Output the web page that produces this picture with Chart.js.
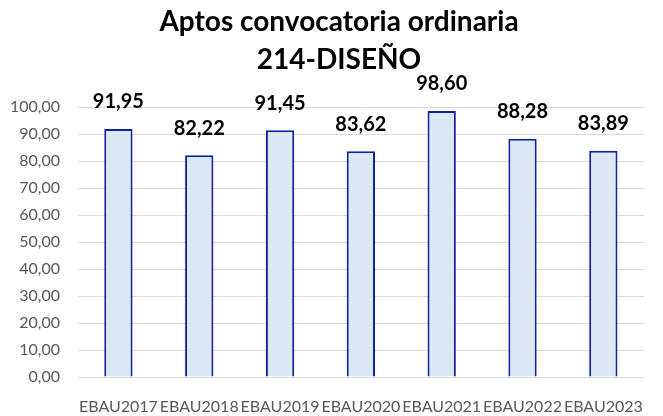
<!DOCTYPE html>
<html>
<head>
<meta charset="utf-8">
<script src="https://cdn.jsdelivr.net/npm/chart.js@4"></script>
<style>
  html, body { margin: 0; padding: 0; background: #fff; }
  #wrap { width: 663px; height: 416px; overflow: hidden; }
</style>
</head>
<body>
<div id="wrap"><canvas id="grafico"></canvas></div>
<script>
const cursos = ['EBAU2017', 'EBAU2018', 'EBAU2019', 'EBAU2020', 'EBAU2021', 'EBAU2022', 'EBAU2023'];
const aptos = [91.95, 82.22, 91.45, 83.62, 98.60, 88.28, 83.89];
const titulo = ['Aptos convocatoria ordinaria', '214-DISEÑO'];

const fmt = v => v.toFixed(2).replace('.', ',');

// etiquetas encima de cada barra
const etiquetas = {
  id: 'etiquetas',
  afterDatasetsDraw(chart) {
    const ctx = chart.ctx;
    const meta = chart.getDatasetMeta(0);
    ctx.save();
    ctx.font = 'bold 20px Lato';
    ctx.fillStyle = '#000';
    ctx.textAlign = 'center';
    ctx.textBaseline = 'middle';
    meta.data.forEach((bar, i) => {
      ctx.fillText(fmt(aptos[i]), bar.x, bar.y - 27);
    });
    ctx.restore();
  }
};

new Chart(document.getElementById('grafico'), {
  type: 'bar',
  data: {
    labels: cursos,
    datasets: [{
      data: aptos,
      backgroundColor: '#dde8f5',
      borderColor: '#0e239c',
      borderWidth: 2,
      borderSkipped: 'bottom',
      categoryPercentage: 1,
      barPercentage: 0.35
    }]
  },
  options: {
    responsive: true,
    maintainAspectRatio: false,
    animation: false,
    // el titulo queda algo desplazado a la derecha, como en el original
    layout: { padding: { left: 0, right: -15, bottom: 0 } },
    scales: {
      y: {
        min: 0,
        max: 100,
        afterFit: s => { s.width = 78; },
        ticks: {
          stepSize: 10,
          padding: 18,
          color: '#595959',
          font: { family: 'Lato', size: 16 },
          callback: v => fmt(v)
        },
        grid: { color: '#d9d9d9', lineWidth: 1, drawTicks: false },
        border: { display: false }
      },
      hueco: {
        type: 'linear',
        position: 'right',
        afterFit: s => { s.width = 18; },
        ticks: { display: false },
        grid: { display: false, drawTicks: false },
        border: { display: false }
      },
      x: {
        afterFit: s => { s.height = 39; },
        grid: { display: false, drawTicks: false },
        border: { color: '#d9d9d9' },
        ticks: {
          padding: 20,
          color: '#595959',
          maxRotation: 0,
          autoSkip: false,
          font: { family: 'Lato', size: 16 }
        }
      }
    },
    plugins: {
      legend: { display: false },
      tooltip: { enabled: false },
      title: {
        display: true,
        text: titulo,
        color: '#000',
        font: { family: 'Lato', size: 28, weight: 'bold', lineHeight: 1.36 },
        padding: { top: 3, bottom: 28 }
      }
    }
  },
  plugins: [etiquetas]
});
</script>
</body>
</html>
